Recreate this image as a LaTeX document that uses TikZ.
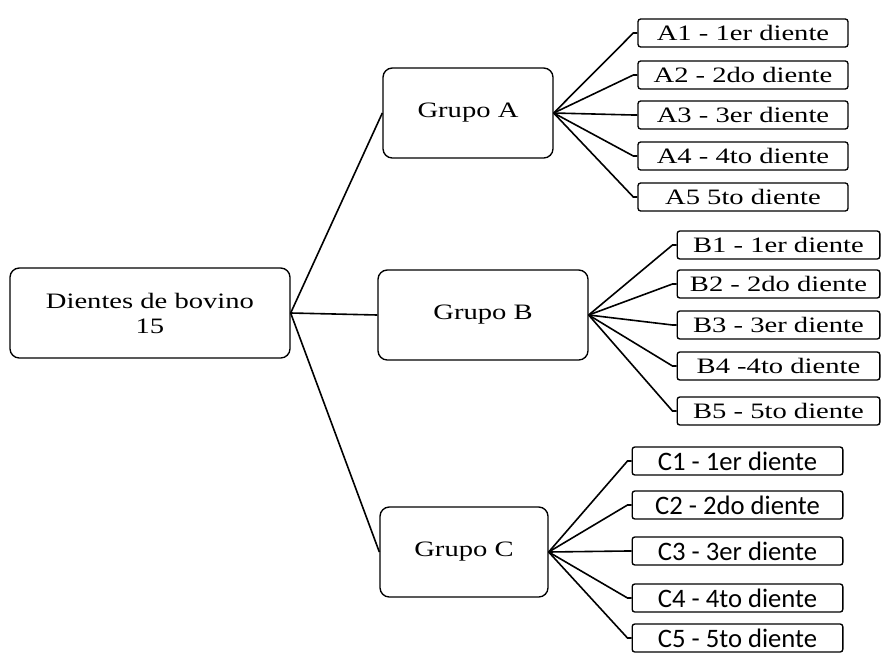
\documentclass[tikz,border=0pt]{standalone}
\usepackage{fontspec}
\setmainfont[FakeStretch=1.3]{Liberation Serif}
\newfontfamily\calibri{Carlito}
\usetikzlibrary{positioning}

\tikzset{
  rootbox/.style={draw, line width=1pt, rounded corners=7pt, minimum width=210pt, minimum height=67.5pt, inner sep=0pt, align=center, font=\fontsize{16.5}{18.75}\selectfont},
  groupbox/.style={draw, line width=1pt, rounded corners=7pt, minimum height=67.5pt, inner sep=0pt, font=\fontsize{16.5}{18.75}\selectfont},
  leafbox/.style={draw, line width=1pt, rounded corners=2pt, minimum height=21pt, inner sep=0pt, font=\fontsize{16.5}{18.75}\selectfont},
  sansleaf/.style={leafbox, minimum width=158pt, font=\calibri\fontsize{20}{22}\selectfont},
  link/.style={draw, line width=1.2pt}
}

\begin{document}
\begin{tikzpicture}[x=0.75pt, y=-0.75pt]
			\useasboundingbox (0,0) rectangle (883,654);

			% root and groups
			\node[rootbox] (root) at (150,313) {Dientes de bovino\\15};
			\node[groupbox, minimum width=127.5pt] (ga) at (468,113) {Grupo A};
			\node[groupbox, minimum width=157.5pt] (gb) at (483,315) {Grupo B};
			\node[groupbox, minimum width=126pt] (gc) at (464,552) {Grupo C};

			% leaves of group A
			\node[leafbox, minimum width=157.5pt] (a1) at (743,33) {A1 - 1er diente};
			\node[leafbox, minimum width=157.5pt] (a2) at (743,75) {A2 - 2do diente};
			\node[leafbox, minimum width=157.5pt] (a3) at (743,115) {A3 - 3er diente};
			\node[leafbox, minimum width=157.5pt] (a4) at (743,156) {A4 - 4to diente};
			\node[leafbox, minimum width=157.5pt] (a5) at (743,197) {A5 5to diente};

			% leaves of group B
			\node[leafbox, minimum width=152pt] (b1) at (778.5,245) {B1 - 1er diente};
			\node[leafbox, minimum width=152pt] (b2) at (778.5,284) {B2 - 2do diente};
			\node[leafbox, minimum width=152pt] (b3) at (778.5,325) {B3 - 3er diente};
			\node[leafbox, minimum width=152pt] (b4) at (778.5,366) {B4 -4to diente};
			\node[leafbox, minimum width=152pt] (b5) at (778.5,411) {B5 - 5to diente};

			% leaves of group C
			\node[sansleaf] (c1) at (737.5,461) {C1 - 1er diente};
			\node[sansleaf] (c2) at (737.5,505) {C2 - 2do diente};
			\node[sansleaf] (c3) at (737.5,551) {C3 - 3er diente};
			\node[sansleaf] (c4) at (737.5,598) {C4 - 4to diente};
			\node[sansleaf] (c5) at (737.5,638) {C5 - 5to diente};

			\draw[link] (root.east) -- (ga.west);
			\draw[link] (root.east) -- (gb.west);
			\draw[link] (root.east) -- (gc.west);

			\draw[link] (ga.east) -- ([xshift=-3pt]a1.west) -- (a1.west);
			\draw[link] (ga.east) -- ([xshift=-3pt]a2.west) -- (a2.west);
			\draw[link] (ga.east) -- ([xshift=-3pt]a3.west) -- (a3.west);
			\draw[link] (ga.east) -- ([xshift=-3pt]a4.west) -- (a4.west);
			\draw[link] (ga.east) -- ([xshift=-3pt]a5.west) -- (a5.west);

			\draw[link] (gb.east) -- ([xshift=-3pt]b1.west) -- (b1.west);
			\draw[link] (gb.east) -- ([xshift=-3pt]b2.west) -- (b2.west);
			\draw[link] (gb.east) -- ([xshift=-3pt]b3.west) -- (b3.west);
			\draw[link] (gb.east) -- ([xshift=-3pt]b4.west) -- (b4.west);
			\draw[link] (gb.east) -- ([xshift=-3pt]b5.west) -- (b5.west);

			\draw[link] (gc.east) -- ([xshift=-3pt]c1.west) -- (c1.west);
			\draw[link] (gc.east) -- ([xshift=-3pt]c2.west) -- (c2.west);
			\draw[link] (gc.east) -- ([xshift=-3pt]c3.west) -- (c3.west);
			\draw[link] (gc.east) -- ([xshift=-3pt]c4.west) -- (c4.west);
			\draw[link] (gc.east) -- ([xshift=-3pt]c5.west) -- (c5.west);
		\end{tikzpicture}
\end{document}
